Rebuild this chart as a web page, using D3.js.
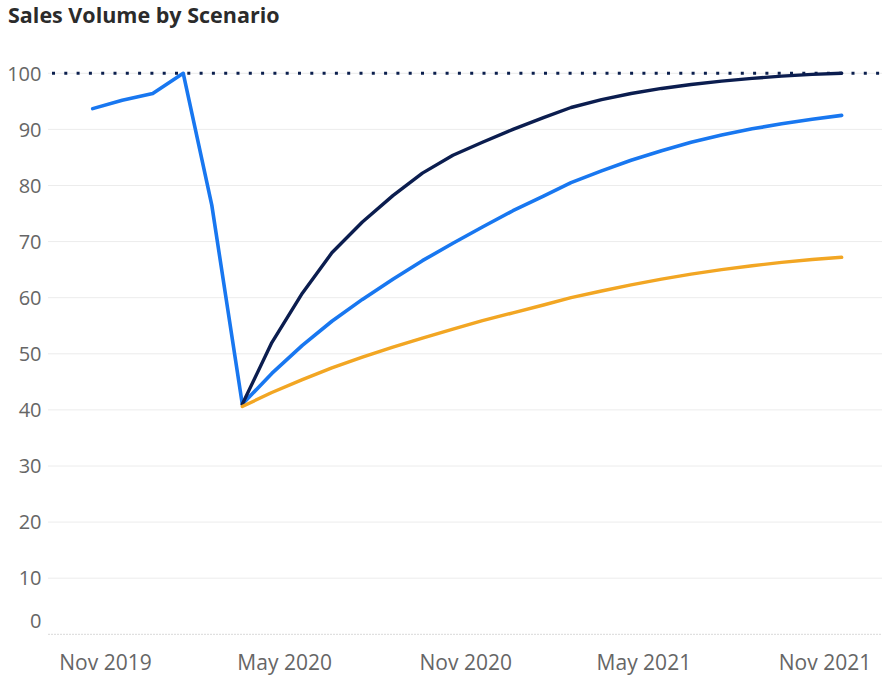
<!DOCTYPE html>
<html>
<head>
<meta charset="utf-8">
<script src="https://cdn.jsdelivr.net/npm/d3@7"></script>
<style>
  html, body { margin: 0; padding: 0; background: #fff; }
  svg { display: block; font-family: "Open Sans", "Noto Sans", sans-serif; }
</style>
</head>
<body>
<svg id="chart" width="885" height="677"></svg>
<script>
// ---- data ----
const title = "Sales Volume by Scenario";
const months = ["2019-11","2019-12","2020-01","2020-02","2020-03","2020-04","2020-05","2020-06",
  "2020-07","2020-08","2020-09","2020-10","2020-11","2020-12","2021-01","2021-02","2021-03",
  "2021-04","2021-05","2021-06","2021-07","2021-08","2021-09","2021-10","2021-11","2021-12"];
const baseline = [93.7, 95.2, 96.4, 100, 76.5, 41, 46.5, 51.5, 55.8, 59.7, 63.3, 66.6, 69.7, 72.6,
  75.5, 78.1, 80.5, 82.6, 84.5, 86.2, 87.7, 89.0, 90.1, 91.0, 91.8, 92.5];
const optimistic = [null, null, null, null, null, 41, 52, 60.8, 68, 73.5, 78.2, 82.2, 85.4, 87.7,
  90.0, 92.1, 93.9, 95.3, 96.4, 97.3, 98.0, 98.6, 99.1, 99.5, 99.8, 100];
const pessimistic = [null, null, null, null, null, 40.6, 43.1, 45.4, 47.5, 49.4, 51.2, 52.8, 54.4,
  55.9, 57.3, 58.7, 60.0, 61.2, 62.3, 63.3, 64.2, 65.0, 65.7, 66.3, 66.8, 67.2];
const xTickDates = ["2019-11-14","2020-05-14","2020-11-14","2021-05-14","2021-11-14"];
const xTickLabels = ["Nov 2019","May 2020","Nov 2020","May 2021","Nov 2021"];
const yTicks = [0, 10, 20, 30, 40, 50, 60, 70, 80, 90, 100];
const referenceValue = 100;

// ---- layout ----
const svg = d3.select("#chart");
const parseM = d3.timeParse("%Y-%m");
const parseD = d3.timeParse("%Y-%m-%d");
const dates = months.map(parseM);

const x = d3.scaleTime()
  .domain([dates[0], dates[dates.length - 1]])
  .range([92.7, 841.7]);
const y = d3.scaleLinear().domain([0, 100]).range([634.3, 73.3]);

const gridLeft = 48, gridRight = 882;

// title
svg.append("text")
  .attr("x", 8).attr("y", 23)
  .attr("font-size", 21.5).attr("font-weight", 700)
  .attr("fill", "#2b2b2b")
  .text(title);

// gridlines
svg.append("g").selectAll("line")
  .data(yTicks.filter(d => d > 0))
  .join("line")
  .attr("x1", gridLeft).attr("x2", gridRight)
  .attr("y1", d => y(d)).attr("y2", d => y(d))
  .attr("stroke", "#ececec").attr("stroke-width", 1);

// baseline axis line
svg.append("line")
  .attr("x1", gridLeft).attr("x2", gridRight)
  .attr("y1", y(0)).attr("y2", y(0))
  .attr("stroke", "#d9d9d9").attr("stroke-width", 1)
  .attr("stroke-dasharray", "2,1");

// y labels
svg.append("g").selectAll("text")
  .data(yTicks)
  .join("text")
  .attr("x", 41.5)
  .attr("y", d => y(d) + (d === 0 ? -14 : 0))
  .attr("dy", "0.36em")
  .attr("text-anchor", "end")
  .attr("font-size", 20)
  .attr("fill", "#666")
  .text(d => d);

// x labels
svg.append("g").selectAll("text")
  .data(xTickDates.map((d, i) => ({ date: parseD(d), label: xTickLabels[i] })))
  .join("text")
  .attr("x", d => x(d.date))
  .attr("y", 670)
  .attr("text-anchor", "middle")
  .attr("font-size", 21)
  .attr("fill", "#666")
  .text(d => d.label);

// reference dotted line
svg.append("line")
  .attr("x1", 52).attr("x2", 885)
  .attr("y1", y(referenceValue)).attr("y2", y(referenceValue))
  .attr("stroke", "#0b1f4d").attr("stroke-width", 3)
  .attr("stroke-dasharray", "3,9.3");

// lines
const line = d3.line()
  .defined(d => d.v != null)
  .x(d => x(d.date))
  .y(d => y(d.v));

const series = [
  { values: baseline, color: "#1877f0", width: 3.6 },
  { values: optimistic, color: "#0b1d4f", width: 3.4 },
  { values: pessimistic, color: "#f2a623", width: 3.4 }
];

svg.append("g").selectAll("path")
  .data(series)
  .join("path")
  .attr("d", s => line(s.values.map((v, i) => ({ date: dates[i], v }))))
  .attr("fill", "none")
  .attr("stroke", s => s.color)
  .attr("stroke-width", s => s.width)
  .attr("stroke-linejoin", "round")
  .attr("stroke-linecap", "round");
</script>
</body>
</html>
